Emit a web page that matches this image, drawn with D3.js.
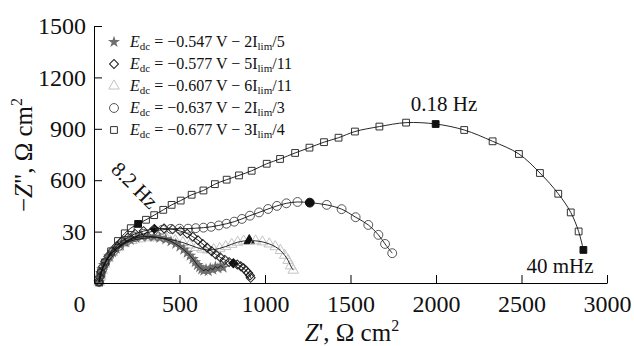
<!DOCTYPE html>
<html>
<head>
<meta charset="utf-8">
<script src="https://cdn.jsdelivr.net/npm/d3@7"></script>
<style>
  body { margin: 0; background: #fff; }
  svg, svg text { font-family: 'Liberation Serif', Tinos, 'Times New Roman', 'DejaVu Serif', serif; }
</style>
</head>
<body>
<div id="viz"></div>
<script>
// Nyquist data [Z', -Z''] in Ohm cm2
const starPts = [[30,5],[34,30],[40,55],[48,80],[58,105],[72,130],[88,155],[108,178],[130,200],[155,220],[182,238],[212,252],[245,263],[280,270],[315,272],[350,270],[385,264],[420,255],[450,243],[478,228],[502,212],[525,195],[545,176],[562,160],[578,140],[592,122],[605,105],[618,92],[630,80],[642,72],[655,80],[668,70],[680,86],[695,78],[710,95],[725,86],[740,100],[755,90]];
const diamondPts = [[30,5],[35,35],[42,65],[52,95],[66,125],[84,155],[106,185],[132,215],[162,242],[198,266],[240,287],[290,303],[353,316],[410,318],[460,313],[505,303],[545,288],[578,270],[608,250],[636,228],[662,206],[688,185],[712,166],[738,150],[765,135],[790,122],[815,115],[838,108],[858,98],[875,86],[890,72],[902,58],[912,44],[916,30]];
const trianglePts = [[30,5],[38,40],[48,75],[62,110],[82,145],[108,178],[140,206],[178,230],[222,248],[270,258],[320,264],[372,264],[425,258],[475,248],[520,236],[560,222],[598,208],[632,198],[665,193],[700,195],[735,202],[770,213],[805,226],[840,238],[875,245],[908,247],[945,246],[985,240],[1025,228],[1060,212],[1090,190],[1115,162],[1135,132],[1150,100],[1165,75]];
const circlePts = [[30,5],[38,45],[50,85],[66,120],[88,155],[115,188],[148,218],[190,245],[238,268],[290,287],[345,302],[400,311],[450,316],[500,317],[550,317],[595,320],[640,323],[685,328],[730,336],[775,346],[820,358],[865,374],[912,393],[965,412],[1018,432],[1070,450],[1125,465],[1190,473],[1262,469],[1361,456],[1448,431],[1530,384],[1604,339],[1663,281],[1702,228],[1744,174]];
const squarePts = [[30,5],[40,60],[65,120],[100,185],[140,245],[180,290],[215,320],[258,345],[304,369],[352,396],[405,427],[454,456],[507,481],[571,515],[640,540],[707,577],[776,603],[848,628],[922,655],[1010,696],[1088,724],[1176,759],[1260,790],[1345,822],[1430,848],[1526,884],[1669,913],[1825,936],[1998,928],[2165,893],[2331,827],[2485,753],[2608,642],[2715,521],[2788,412],[2834,301],[2862,193]];

// indices of the filled (frequency-marked) points
const starFilled = [];
const diamondFilled = [12, 26];
const triangleFilled = [25];
const circleFilled = [28];
const squareFilled = [7, 28, 36];

const legendV = ['\u22120.547', '\u22120.577', '\u22120.607', '\u22120.637', '\u22120.677'];
const legendI = [['2', '/5'], ['5', '/11'], ['6', '/11'], ['2', '/3'], ['3', '/4']];

const xTickVals = [0, 500, 1000, 1500, 2000, 2500, 3000];
const xTickLabels = ['0', '500', '1000', '1500', '2000', '2500', '3000'];
const yTickVals = [300, 600, 900, 1200, 1500];
const yTickLabels = ['30', '600', '900', '1200', '1500'];

const width = 634, height = 346;
const serif = "'Liberation Serif', Tinos, 'Times New Roman', 'DejaVu Serif', serif";

const svg = d3.select('#viz').append('svg')
  .attr('width', width).attr('height', height)
  .attr('font-family', serif);

const x = d3.scaleLinear().domain([0, 3000]).range([94, 607]);
const y = d3.scaleLinear().domain([0, 1500]).range([283, 26]);

// series styling
const series = [
  { pts: trianglePts, filled: triangleFilled, type: d3.symbolTriangle, size: 48, stroke: '#c4c4c4', fill: 'none', rot: 0 },
  { pts: starPts, filled: starFilled, type: d3.symbolStar, size: 45, stroke: 'none', fill: '#6e6e6e', rot: 0 },
  { pts: diamondPts, filled: diamondFilled, type: d3.symbolSquare, size: 40, stroke: '#222', fill: 'none', rot: 45 },
  { pts: circlePts, filled: circleFilled, type: d3.symbolCircle, size: 62, stroke: '#555', fill: 'none', rot: 0 },
  { pts: squarePts, filled: squareFilled, type: d3.symbolSquare, size: 46, stroke: '#333', fill: 'none', rot: 0 }
];

series.forEach((s) => {
  svg.append('g').selectAll('path').data(s.pts).enter().append('path')
    .attr('d', d3.symbol().type(s.type).size(s.size))
    .attr('transform', (d) => `translate(${x(d[0])},${y(d[1])}) rotate(${s.rot})`)
    .attr('fill', (d, i) => s.filled.includes(i) ? '#111' : s.fill)
    .attr('stroke', (d, i) => s.filled.includes(i) ? '#111' : s.stroke)
    .attr('stroke-width', 1);
});

const line = d3.line().x((d) => x(d[0])).y((d) => y(d[1])).curve(d3.curveCatmullRom);
series.forEach((s) => {
  svg.append('path').datum(s.pts)
    .attr('d', line)
    .attr('fill', 'none')
    .attr('stroke', '#111')
    .attr('stroke-width', 0.9);
});

// axes
const xAxis = svg.append('g')
  .attr('transform', `translate(0,${y(0)})`)
  .call(d3.axisBottom(x).tickValues(xTickVals).tickFormat((d, i) => xTickLabels[i])
    .tickSizeInner(-8).tickSizeOuter(0).tickPadding(12));
xAxis.attr('font-family', serif).attr('font-size', 24);
xAxis.selectAll('text').attr('fill', '#111');
xAxis.selectAll('.tick').filter((d) => d === 0).select('text').attr('x', -15);
xAxis.selectAll('.tick').filter((d) => d === 0).select('line').remove();

const yAxis = svg.append('g')
  .attr('transform', `translate(${x(0)},0)`)
  .call(d3.axisLeft(y).tickValues(yTickVals).tickFormat((d, i) => yTickLabels[i])
    .tickSizeInner(-8).tickSizeOuter(0).tickPadding(8));
yAxis.attr('font-family', serif).attr('font-size', 24);
yAxis.selectAll('text').attr('fill', '#111');

// axis titles
const xt = svg.append('text').attr('x', 352).attr('y', 341)
  .attr('text-anchor', 'middle').attr('font-size', 25).attr('fill', '#111');
xt.append('tspan').attr('font-style', 'italic').text('Z');
xt.append('tspan').text("', \u03a9 cm");
xt.append('tspan').attr('font-size', 16).attr('dy', -10).text('2');

const yt = svg.append('text').attr('transform', 'translate(32,155) rotate(-90)')
  .attr('text-anchor', 'middle').attr('font-size', 25).attr('fill', '#111');
yt.append('tspan').text('\u2212');
yt.append('tspan').attr('font-style', 'italic').text('Z');
yt.append('tspan').text('", \u03a9 cm');
yt.append('tspan').attr('font-size', 16).attr('dy', -10).text('2');

// legend
const legendOrder = [1, 2, 0, 3, 4];
legendOrder.forEach((si, row) => {
  const s = series[si];
  const cy = 42 + row * 22;
  svg.append('path')
    .attr('d', d3.symbol().type(s.type).size(s.size))
    .attr('transform', `translate(114,${cy}) rotate(${s.rot})`)
    .attr('fill', s.fill).attr('stroke', s.stroke);
  const t = svg.append('text').attr('x', 130).attr('y', cy + 5)
    .attr('font-size', 16).attr('fill', '#111');
  t.append('tspan').attr('font-style', 'italic').text('E');
  t.append('tspan').attr('font-size', 11).attr('dy', 3).text('dc');
  t.append('tspan').attr('dy', -3).text(` = ${legendV[row]} V \u2212 ${legendI[row][0]}I`);
  t.append('tspan').attr('font-size', 11).attr('dy', 3).text('lim');
  t.append('tspan').attr('dy', -3).text(legendI[row][1]);
});

// frequency annotations
svg.append('text').attr('x', 444).attr('y', 111).attr('text-anchor', 'middle')
  .attr('font-size', 21).attr('fill', '#111').text('0.18 Hz');
svg.append('text').attr('x', 560).attr('y', 273).attr('text-anchor', 'middle')
  .attr('font-size', 21).attr('fill', '#111').text('40 mHz');
svg.append('text').attr('transform', 'translate(135,185) rotate(45)').attr('text-anchor', 'middle')
  .attr('dy', '0.35em').attr('font-size', 21).attr('fill', '#111').text('8.2 Hz');
</script>
</body>
</html>
